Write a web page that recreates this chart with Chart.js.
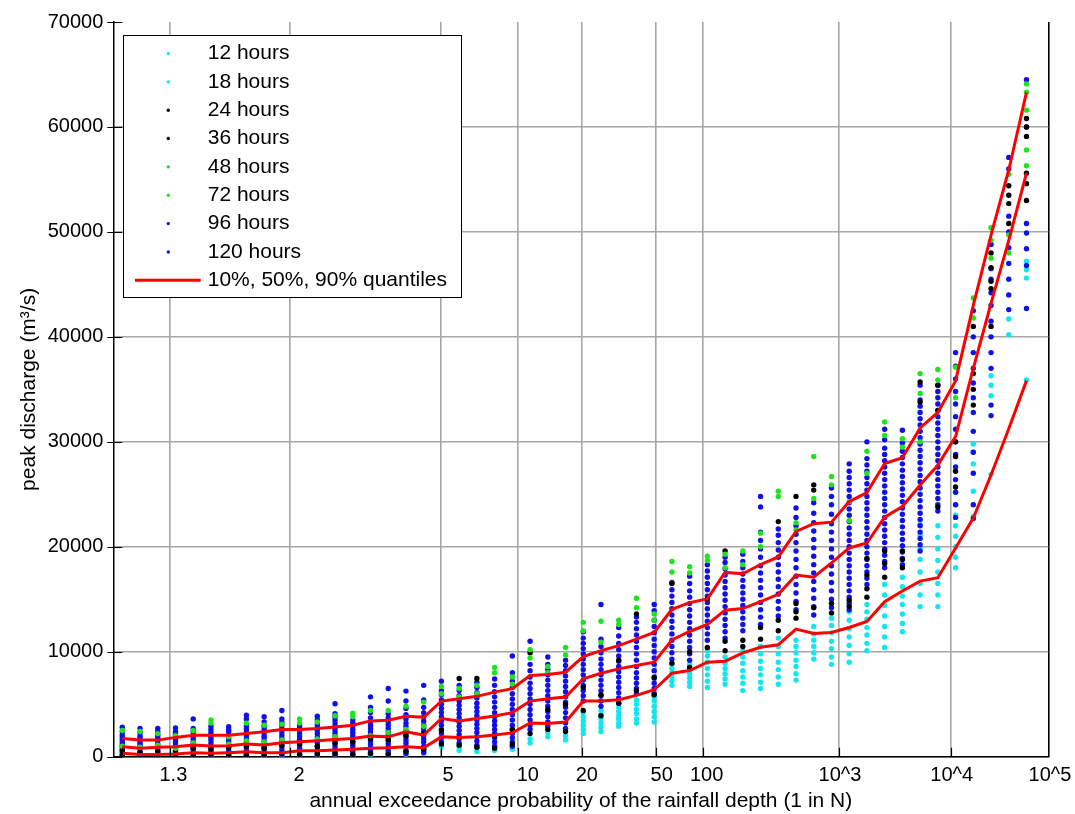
<!DOCTYPE html>
<html>
<head>
<meta charset="utf-8">
<script src="https://cdn.jsdelivr.net/npm/chart.js@4.4.0/dist/chart.umd.min.js"></script>
<style>
  html, body { margin: 0; padding: 0; background: #fff; }
  canvas { display: block; }
</style>
</head>
<body>
<canvas id="chart" width="1075" height="814"></canvas>
<script>
// x axis: columns are indexed 0..51, ticks sit between them
const xTickLabels = ['1.3', '2', '5', '10', '20', '50', '100', '10^3', '10^4', '10^5'];
const xLabelPos = [2.88, 9.97, 18.38, 22.87, 26.2, 30.42, 32.96, 40.48, 46.78, 52.32];
const xGridPos = [0, 2.69, 9.46, 17.96, 22.33, 25.94, 30.08, 32.77, 40.44, 46.72, 52.23];
const yTicks = [0, 10000, 20000, 30000, 40000, 50000, 60000, 70000];

// quantile lines, thousands of m3/s, one value per column
const q90 = [1.74,1.58,1.58,1.84,2.05,2.05,2.05,2.22,2.37,2.59, 2.59,2.69,2.84,3.00,3.41,3.47,3.85,3.76,5.30,5.53,
  5.75,6.15,6.48,7.74,7.83,8.05,9.54,10.10,10.58,11.21, 11.84,14.05,14.68,15.03,17.56,17.43,18.31,19.03,21.47,22.20,
  22.35,24.31,25.16,27.94,28.48,31.32,32.80,35.80,43.00,49.70, 55.90,63.30];
const q50 = [0.95,0.80,0.89,0.95,1.11,1.01,1.04,1.20,1.11,1.33, 1.42,1.52,1.65,1.74,1.96,1.89,2.37,2.06,3.64,3.41,
  3.64,3.88,4.20,5.30,5.53,5.68,7.42,7.95,8.37,8.68, 9.00,11.12,11.93,12.60,13.96,14.11,14.77,15.47,17.30,17.11,
  18.47,19.89,20.36,22.82,23.84,25.89,27.78,30.50,37.00,43.20, 49.20,55.60];
const q10 = [0.32,0.22,0.22,0.26,0.38,0.32,0.38,0.47,0.38,0.38, 0.57,0.57,0.63,0.70,0.80,0.85,0.95,0.85,1.89,1.84,
  1.89,2.06,2.27,3.22,3.16,3.31,5.30,5.30,5.43,5.84, 6.38,7.95,8.21,9.00,9.10,9.90,10.42,10.67,12.16,11.74,
  11.84,12.31,12.88,14.77,15.79,16.73,17.05,19.89,22.73,26.84, 31.25,35.83];

// peak discharge per storm duration, thousands of m3/s, one list per column
const h12 = [[0.05],[0.1],[0.15],[0.1],[0.1],[0.1],[0.05],[0.1],[0.05],[0.1],
  [0.1],[0.15],[0.2],[0.1],[0.15],[0.2],[0.2],[0.3],[0.95],[0.6],
  [0.5],[0.6],[0.7],[1.3],[1.9],[1.6],[2.2,3.0,3.8],[2.4,3.2,4.0],[2.9,3.6,4.3],[3.2,4.1,5.0],
  [3.3,4.3,5.3],[6.8,7.6,8.4],[6.7,7.5,8.3],[6.6,7.8,9.0,10.1],[6.9,7.9,8.9],[6.3,7.6,8.9,10.1],[6.5,7.8,9.1,10.5],[6.9,8.3,9.8,11.3],[7.3,8.6,9.9,11.1],[9.3,10.5,11.7],
  [8.8,10.3,11.8,13.2],[9.0,10.6,12.2,13.8],[10.1,11.6,13.1,14.5],[10.4,12.4,14.4,16.4],[11.9,13.6,15.3,17.1],[14.3,16.5,18.8,21.1],[14.3,16.5,18.7,20.9],[18.0,20.0,22.0,24.0],[22.9,27.9,29.8],[26.9,35.4],
  [40.2],[35.9,46.4]];
const h18 = [[0.2],[0.15],[0.05],[0.2],[0.25],[0.2],[0.15],[0.25],[0.2],[0.2],
  [0.3],[0.3],[0.35],[0.3],[0.4],[0.45],[0.4],[0.5],[1.1],[0.9],
  [0.8],[0.9],[1.0],[1.7],[2.3],[2.0],[2.6,3.4,4.2],[2.8,3.6,4.4],[3.2,3.9,4.7],[3.6,4.5,5.4],
  [3.8,4.8,5.7],[7.2,8.0,8.8],[7.1,7.9,8.8],[7.2,8.4,9.6],[7.4,8.4,9.5],[7.0,8.2,9.5],[7.1,8.4,9.8],[7.6,9.0,10.5],[7.9,9.2,10.5],[9.9,11.1,12.4],
  [9.5,11.0,12.5],[9.8,11.4,13.0],[10.8,12.3,13.8],[11.4,13.4,15.4],[12.7,14.5,16.2],[15.4,17.6,19.9,22.1],[15.4,17.6,19.8,22.0],[19.0,21.0,23.0,25.2],[25.3,29.0],[34.4,36.3],
  [41.7],[45.6,47.2]];
const h24 = [[0.6],[0.4],[0.5],[0.6],[0.8],[0.7],[0.9],[1.0],[0.8],[1.1],
  [1.2],[1.0],[1.3],[1.4],[1.7],[1.6],[2.0],[2.2],[2.5],[7.45],
  [7.45],[0.8],[1.2],[9.9],[2.6],[2.4],[4.4],[5.9],[5.1],[13.6],
  [7.5],[16.5],[10.0],[10.4],[19.6,10.1],[11.1],[12.3],[22.4,12.0],[24.8,13.2],[25.9,14.2],
  [14.6],[14.9],[18.9,16.0],[19.6,17.1],[19.6,18.0],[35.7],[35.4,23.8],[30.0,27.2],[41.0,35.0],[48.0,45.3,41.0],
  [54.4,52.7],[60.8,59.1,54.6]];
const h36 = [[0.1],[0.05],[0.1],[0.05],[0.05],[0.2],[0.1],[0.15],[0.2],[0.3],
  [0.2],[0.25],[0.3],[0.2],[0.3],[0.2],[0.5],[0.7],[1.2],[1.1],
  [0.9],[2.0],[2.6],[2.2],[4.5],[5.0],[6.6],[3.9],[9.2],[6.3],
  [5.9],[8.9],[8.5],[15.0],[11.0],[10.5],[11.2],[13.0],[14.6,13.8],[25.4],
  [13.7],[14.3],[17.3,15.2],[18.4],[18.8],[33.8],[33.0],[28.6,25.7],[36.5,33.5],[46.6,44.6],
  [53.5,50.8],[60.0,55.6,53.0]];
const h48 = [[2.5],[2.4],[2.2],[2.0],[2.5],[3.5],[1.9],[3.2],[3.0],[3.1],
  [3.6],[3.3],[3.9],[4.15],[4.4],[4.4],[4.8],[5.2],[6.7],[6.5],
  [6.8],[8.5],[7.6],[10.2],[8.6],[10.4],[12.8],[12.9],[13.0],[15.1],
  [13.6],[18.6],[18.1],[19.1],[19.3],[19.6],[21.3],[25.3],[22.3],[28.6],
  [26.7],[24.3],[29.1],[31.9],[30.3],[36.5,30.0],[36.9],[37.1],[43.7],[50.4,47.5],
  [55.5,48.0],[64.1,61.6,56.3]];
const h72 = [[1.0],[0.9],[1.1],[0.8],[1.3],[3.2],[1.2],[1.5],[1.4],[1.6],
  [3.2],[1.7],[1.9],[3.8],[2.0],[2.3],[2.6],[2.9],[6.0],[5.7],
  [6.0],[8.0],[6.9],[9.4],[8.0],[9.7],[12.0],[10.9],[12.6],[14.2],
  [13.0],[17.6],[17.5],[18.7],[18.0],[18.3],[20.0],[24.8],[21.6],[24.6],
  [25.9],[22.5],[27.0],[30.6],[29.5],[34.6],[35.9],[34.2],[41.8],[49.2],
  [49.7],[63.3,57.8]];
const h96 = [[0.1,0.5,0.9,1.3,1.7,2.1,2.8],[0.1,0.5,1.0,1.4,1.8,2.3],[0.1,0.6,1.0,1.5,1.9,2.4],[0.1,0.5,1.0,1.5,2.0,2.4],
  [0.2,0.7,1.2,1.7,2.1,2.7],[0.1,0.5,1.0,1.6,2.0,2.6],[0.1,0.6,1.1,1.6,2.1,2.6],[0.2,0.6,1.2,1.7,2.3,2.9,3.95],
  [0.1,0.7,1.2,1.8,2.3,2.9,3.8],[0.2,0.7,1.3,1.8,2.4,3.0,3.6],[0.2,0.8,1.4,1.9,2.5,3.0],[0.2,0.7,1.3,1.9,2.5,3.1,3.85],
  [0.2,0.8,1.4,2.0,2.6,3.2,3.8,5.05],[0.2,0.8,1.4,2.0,2.6,3.2],[0.3,0.9,1.5,2.1,2.7,3.3,4.2,5.7],[0.3,0.9,1.5,2.1,2.7,3.3,4.1,6.5],
  [0.3,1.0,1.6,2.2,2.9,3.6,4.6,6.25],[0.4,1.0,1.7,2.4,3.0,3.8,4.7,6.8],[1.4,2.2,3.0,3.8,4.6,5.4,6.3],[1.3,2.1,2.9,3.7,4.5,5.3,6.3],
  [1.1,1.9,2.7,3.5,4.3,5.1,6.1,7.1],[1.0,1.8,2.6,3.4,4.2,5.2,6.2,7.4],[1.0,1.8,2.6,3.5,4.5,5.5,6.6,8.0],[2.6,3.5,4.5,5.5,6.5,7.6,8.8],
  [2.9,3.8,4.8,5.8,6.8,7.8,8.8],[2.7,3.7,4.7,5.7,6.7,7.7,8.7],[5.3,6.3,7.3,8.3,9.3,10.3,11.3],[4.8,5.8,6.8,7.8,8.8,9.9,11.2],
  [5.1,6.1,7.1,8.1,9.1,10.2,11.5],[6.0,7.0,8.0,9.2,10.4,11.6,12.8],[6.0,7.0,8.2,9.4,10.6,11.8,13.0,14.5],[9.3,10.5,11.7,12.9,14.1,15.3,16.6],
  [9.2,10.4,11.6,12.8,14.0,15.2,16.5],[11.1,12.3,13.5,14.7,15.9,17.1,18.3],[11.3,12.5,13.7,14.9,16.1,17.3,18.5],[12.0,13.2,14.4,15.6,16.8,18.0,19.3],
  [12.6,14.0,15.4,16.8,18.2,19.8,21.4,24.8],[13.4,14.8,16.2,17.6,19.0,20.4,21.7],[14.0,15.6,17.2,18.8,20.4,22.0,23.7],[13.5,15.1,16.7,18.3,19.9,21.5,23.2],
  [14.2,15.8,17.4,19.0,20.6,22.2,24.0,25.6],
  [14.0,15.2,16.4,17.6,18.8,20.0,21.2,22.4,23.6,24.8,26.0,27.2],
  [16.4,17.6,18.8,20.0,21.2,22.4,23.6,24.8,26.0,27.2,28.4],
  [18.0,19.2,20.4,21.6,22.8,24.0,25.2,26.4,27.6,28.8,30.2],
  [18.3,19.5,20.7,21.9,23.1,24.3,25.5,26.7,27.9,29.1],
  [19.6,20.8,22.0,23.2,24.4,25.6,26.8,28.0,29.2,30.4,31.6,32.8,34.0],
  [23.4,24.6,25.8,27.0,28.2,29.4,30.6,31.8,33.0,34.2,35.4],
  [22.8,25.2,27.6,30.0,32.4,34.8,37.2],
  [22.7,27.0,31.0,34.2,37.0,40.0],[32.5,37.0,40.0,43.0,45.5,48.8],[42.6,45.5,48.5,51.5,57.1],[42.7,48.4,50.8,64.5]];
const h120 = [[0.3,0.7,1.1,1.5,1.9,2.4],[0.3,0.8,1.2,1.6,2.0,2.7],[0.3,0.8,1.2,1.7,2.1,2.7],[0.3,0.8,1.3,1.7,2.2,2.75],
  [0.4,0.9,1.4,1.9,2.4,3.6],[0.3,0.8,1.3,1.8,2.3,2.9],[0.3,0.9,1.3,1.8,2.4,2.85],[0.4,0.9,1.4,2.0,2.6,3.6],
  [0.4,0.9,1.5,2.0,2.6,3.3],[0.4,1.0,1.5,2.1,2.7,3.3,4.4],[0.5,1.1,1.6,2.2,2.8],[0.4,1.0,1.6,2.2,2.8,3.5],
  [0.5,1.1,1.7,2.3,2.9,3.5,4.1],[0.5,1.1,1.7,2.3,2.9,3.5],[0.6,1.2,1.8,2.4,3.0,3.7,4.7],[0.6,1.2,1.8,2.4,3.0,3.7,5.3],
  [0.6,1.3,1.9,2.5,3.2,4.0,5.3],[0.7,1.4,2.0,2.7,3.4,4.2,5.4],[1.8,2.6,3.4,4.2,5.0,5.9,7.2],[1.7,2.5,3.3,4.1,4.9,5.8,6.8],
  [1.5,2.3,3.1,3.9,4.7,5.6,6.6],[1.4,2.2,3.0,3.8,4.7,5.7,6.8],[1.4,2.2,3.0,4.0,5.0,6.0,7.2,9.6],[3.0,4.0,5.0,6.0,7.0,8.2,11.0],
  [3.3,4.3,5.3,6.3,7.3,8.3,9.5],[3.2,4.2,5.2,6.2,7.2,8.2,9.2],[5.8,6.8,7.8,8.8,9.8,10.8,11.9],[5.3,6.3,7.3,8.3,9.3,10.5,14.5],
  [5.6,6.6,7.6,8.6,9.6,10.8,12.3],[6.5,7.5,8.6,9.8,11.0,12.2,13.3],[6.5,7.6,8.8,10.0,11.2,12.4,13.9],[9.9,11.1,12.3,13.5,14.7,15.9],
  [9.8,11.0,12.2,13.4,14.6,15.8,17.2],[11.7,12.9,14.1,15.3,16.5,17.7],[11.9,13.1,14.3,15.5,16.7,17.9,19.0],[12.6,13.8,15.0,16.2,17.4,18.6],
  [13.3,14.7,16.1,17.5,19.0,20.6,23.8],[14.1,15.5,16.9,18.3,19.7,21.1],[14.8,16.4,18.0,19.6,21.2,22.8],[14.3,15.9,17.5,19.1,20.7,22.3,24.2],
  [15.0,16.6,18.2,19.8,21.4,23.1,24.8],
  [14.6,15.8,17.0,18.2,19.4,20.6,21.8,23.0,24.2,25.4,26.6,27.9],
  [17.0,18.2,19.4,20.6,21.8,23.0,24.2,25.4,26.6,27.8,30.0],
  [18.6,19.8,21.0,22.2,23.4,24.6,25.8,27.0,28.2,29.4,31.2],
  [18.9,20.1,21.3,22.5,23.7,24.9,26.1,27.3,28.5,29.9,31.1],
  [20.2,21.4,22.6,23.8,25.0,26.2,27.4,28.6,29.8,31.0,32.2,33.4,35.4],
  [24.0,25.2,26.4,27.6,28.8,30.0,31.2,32.4,33.6,34.8],
  [24.0,26.4,28.8,31.2,33.6,36.0,38.5],
  [24.0,29.0,32.8,35.6,38.5,42.5],[33.5,38.5,41.5,44.2,46.5],[44.0,47.0,50.0,56.0],[46.8,49.9,60.0]];

const durations = ['12 hours', '18 hours', '24 hours', '36 hours', '48 hours', '72 hours', '96 hours', '120 hours'];
const durationData = [h12, h18, h24, h36, h48, h72, h96, h120];

const CYAN = '#12e6ee', BLACK = '#000000', GREEN = '#1ee41e', BLUE = '#1010e8', RED = '#ff0000';
const durationColors = [CYAN, CYAN, BLACK, BLACK, GREEN, GREEN, BLUE, BLUE];
const drawOrder = [5, 5, 3, 3, 2, 2, 4, 4];
const X_MIN = -0.508, X_MAX = 52.23;
const FONT = '"Liberation Sans", Arial, Helvetica, sans-serif';

function columnPoints(cols) {
  const pts = [];
  cols.forEach((vals, i) => vals.forEach(v => pts.push({ x: i, y: v * 1000 })));
  return pts;
}
function linePoints(vals) {
  return vals.map((v, i) => ({ x: i, y: v * 1000 }));
}

const datasets = durations.map((name, k) => ({
  label: name,
  data: columnPoints(durationData[k]),
  backgroundColor: durationColors[k],
  borderColor: durationColors[k],
  borderWidth: 0,
  pointRadius: 2.7,
  pointStyle: 'circle',
  showLine: false,
  order: drawOrder[k]
}));
[q10, q50, q90].forEach((q, k) => {
  datasets.push({
    label: k === 0 ? '10%, 50%, 90% quantiles' : '',
    data: linePoints(q),
    borderColor: RED,
    backgroundColor: RED,
    borderWidth: 3,
    pointRadius: 0,
    showLine: true,
    tension: 0,
    order: 0,
    isQuantile: true
  });
});

// ticks inside the box, x labels, and the boxed legend
const decorations = {
  id: 'decorations',
  afterDraw(chart) {
    const { ctx, chartArea: a, scales: { x, y } } = chart;
    ctx.save();
    ctx.strokeStyle = '#000';
    ctx.lineWidth = 1.2;
    ctx.beginPath();
    xGridPos.slice(0, -1).forEach(v => {
      const px = Math.round(x.getPixelForValue(v)) + 0.5;
      ctx.moveTo(px, a.bottom);
      ctx.lineTo(px, a.bottom - 9);
    });
    yTicks.forEach(v => {
      const py = Math.round(y.getPixelForValue(v)) + 0.5;
      ctx.moveTo(a.left - 6, py);
      ctx.lineTo(a.left + 9, py);
    });
    ctx.stroke();

    ctx.fillStyle = '#000';
    ctx.font = '20px ' + FONT;
    ctx.textAlign = 'center';
    ctx.textBaseline = 'middle';
    xTickLabels.forEach((lab, i) => ctx.fillText(lab, x.getPixelForValue(xLabelPos[i]), a.bottom + 19));

    // legend box
    const bx = a.left + 10, by = a.top + 13.2, bw = 338.4, bh = 262;
    ctx.fillStyle = '#fff';
    ctx.fillRect(bx, by, bw, bh);
    ctx.strokeStyle = '#000';
    ctx.lineWidth = 1;
    ctx.strokeRect(Math.round(bx) + 0.5, Math.round(by) + 0.5, Math.round(bw), Math.round(bh));
    ctx.font = '21px ' + FONT;
    ctx.textAlign = 'left';
    const items = chart.data.datasets.filter(d => d.label);
    items.forEach((d, k) => {
      const ry = by + 18.3 + 28.35 * k;
      if (d.isQuantile) {
        ctx.strokeStyle = d.borderColor;
        ctx.lineWidth = 3;
        ctx.beginPath();
        ctx.moveTo(bx + 11.7, ry);
        ctx.lineTo(bx + 77.4, ry);
        ctx.stroke();
      } else {
        ctx.fillStyle = d.backgroundColor;
        ctx.beginPath();
        ctx.arc(bx + 45, ry, 1.7, 0, Math.PI * 2);
        ctx.fill();
      }
      ctx.fillStyle = '#000';
      ctx.fillText(d.label, bx + 84.4, ry);
    });
    ctx.restore();
  }
};

Chart.defaults.font.family = FONT;
Chart.defaults.color = '#000';

new Chart(document.getElementById('chart'), {
  type: 'scatter',
  data: { datasets: datasets },
  options: {
    responsive: false,
    animation: false,
    events: [],
    layout: { padding: { top: 17.5, right: 26.7, bottom: 0, left: 0 } },
    plugins: {
      legend: { display: false },
      tooltip: { enabled: false }
    },
    scales: {
      x: {
        type: 'linear',
        min: X_MIN,
        max: X_MAX,
        afterBuildTicks: s => { s.ticks = xGridPos.map(v => ({ value: v })); },
        afterFit: s => { s.height = 57.3; },
        ticks: { display: false },
        grid: {
          drawTicks: false,
          lineWidth: 1.6,
          color: c => c.tick.value === 0 ? 'rgba(0,0,0,0)' : (c.tick.value >= X_MAX ? '#000' : '#a6a6a6')
        },
        border: { color: '#000', width: 1.5 },
        title: {
          display: true,
          text: 'annual exceedance probability of the rainfall depth (1 in N)',
          font: { size: 21 },
          color: '#000',
          padding: { top: 0, bottom: 0 }
        }
      },
      y: {
        min: 0,
        max: 70000,
        afterBuildTicks: s => { s.ticks = yTicks.map(v => ({ value: v })); },
        afterFit: s => { s.width = 113.3; },
        ticks: { font: { size: 20 }, color: '#000', padding: 10, callback: v => String(v) },
        grid: {
          drawTicks: false,
          lineWidth: 1.6,
          color: c => c.tick.value >= 70000 ? 'rgba(0,0,0,0)' : '#a6a6a6'
        },
        border: { color: '#000', width: 1.5 },
        title: {
          display: true,
          text: 'peak discharge (m³/s)',
          font: { size: 21 },
          color: '#000',
          padding: { top: 17, bottom: 0 }
        }
      }
    }
  },
  plugins: [decorations]
});
</script>
</body>
</html>
